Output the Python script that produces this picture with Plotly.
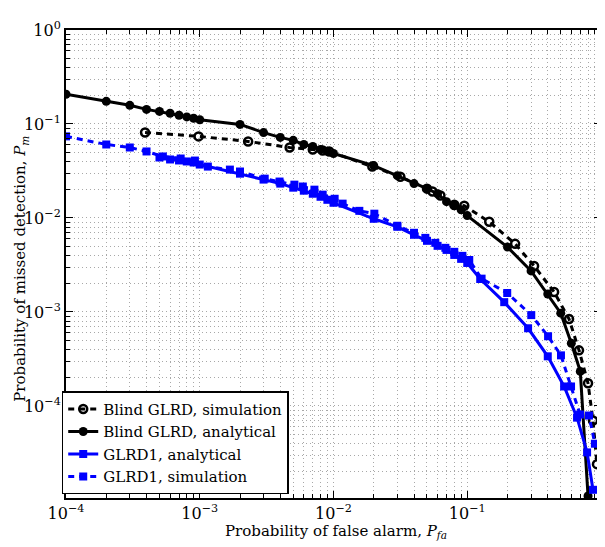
import plotly.graph_objects as go

# ---------------- data ----------------
# Blind GLRD, analytical
blind_ana_pfa = [1e-4, 2e-4, 3e-4, 4e-4, 5e-4, 6e-4, 7e-4, 8e-4, 9e-4, 1e-3,
                 2e-3, 3e-3, 4e-3, 5e-3, 6e-3, 7e-3, 8e-3, 9e-3, 1e-2,
                 2e-2, 3e-2, 4e-2, 5e-2, 6e-2, 7e-2, 8e-2, 9e-2, 0.1,
                 0.2, 0.3, 0.4, 0.5, 0.6, 0.7, 0.8]
blind_ana_pm = [0.207, 0.174, 0.158, 0.143, 0.136, 0.130, 0.124, 0.119, 0.115, 0.111,
                0.099, 0.081, 0.072, 0.067, 0.0605, 0.0577, 0.0536, 0.0513, 0.0485,
                0.0361, 0.0282, 0.0232, 0.0205, 0.0181, 0.0149, 0.0135, 0.0122, 0.0106,
                0.0049, 0.00273, 0.00155, 0.00097, 0.000464, 0.000233, 1.1e-5]

# Blind GLRD, simulation
blind_sim_pfa = [3.9e-4, 9.8e-4, 2.3e-3, 4.7e-3, 7.0e-3, 8.3e-3, 9.3e-3,
                 1.95e-2, 3.16e-2, 5.0e-2, 5.5e-2, 6.3e-2, 8.0e-2, 9.5e-2,
                 0.146, 0.228, 0.316, 0.446, 0.577, 0.685, 0.80, 0.871, 0.933]
blind_sim_pm = [0.0813, 0.0738, 0.0652, 0.0562, 0.0535, 0.0522, 0.0510,
                0.0352, 0.0275, 0.0205, 0.0191, 0.0173, 0.0138, 0.0135,
                0.0091, 0.0053, 0.00309, 0.00163, 0.00084, 0.00039, 1.74e-4, 7.0e-5, 2.4e-5]

# GLRD1, analytical
glrd1_ana_pfa = [5e-4, 6e-4, 7e-4, 8e-4, 9e-4, 1e-3,
                 2e-3, 3e-3, 4e-3, 5e-3, 6e-3, 7e-3, 8e-3, 9e-3, 1e-2,
                 2e-2, 3e-2, 4e-2, 5e-2, 6e-2, 7e-2, 8e-2, 9e-2, 0.1,
                 0.125, 0.189, 0.285, 0.40, 0.53, 0.662, 0.787, 0.871]
glrd1_ana_pm = [0.0440, 0.0419, 0.0409, 0.0399, 0.0389, 0.0370,
                0.0296, 0.0256, 0.0232, 0.0210, 0.0195, 0.0181, 0.0168, 0.0156, 0.0145,
                0.0098, 0.00805, 0.00662, 0.00571, 0.00505, 0.00457, 0.00404, 0.00367, 0.00332,
                0.00224, 0.00127, 6.7e-4, 3.37e-4, 1.61e-4, 7.5e-5, 3.2e-5, 1.28e-5]

# GLRD1, simulation
glrd1_sim_pfa = [1e-4, 2e-4, 3e-4, 4e-4, 5.3e-4, 7.2e-4, 9.2e-4, 1.15e-3, 1.68e-3, 2e-3,
                 3.06e-3, 3.95e-3, 5.1e-3, 5.9e-3, 7.2e-3, 8.3e-3, 1.02e-2, 1.17e-2,
                 1.56e-2, 2.02e-2, 3.0e-2, 4.0e-2, 4.86e-2, 5.77e-2, 6.86e-2, 8.0e-2,
                 9.2e-2, 0.1035, 0.128, 0.199, 0.301, 0.402, 0.502, 0.597, 0.697, 0.813, 0.90]
glrd1_sim_pm = [0.0738, 0.0605, 0.0562, 0.0510, 0.0451, 0.0429, 0.0408, 0.0352, 0.0327, 0.0312,
                0.0262, 0.0244, 0.0226, 0.0216, 0.0200, 0.0177, 0.0160, 0.0142,
                0.0119, 0.0111, 0.00826, 0.00695, 0.00614, 0.00543, 0.00481, 0.00436,
                0.00395, 0.00357, 0.00226, 0.00159, 0.000925, 0.000551, 0.000345, 0.000161,
                8.1e-5, 7.9e-5, 3.96e-5]

x_ticks = [1e-4, 1e-3, 1e-2, 1e-1, 1]
x_ticktext = ["10<sup>−4</sup>", "10<sup>−3</sup>", "10<sup>−2</sup>", "10<sup>−1</sup>", "10<sup>0</sup>"]
y_ticks = [1e-4, 1e-3, 1e-2, 1e-1, 1]
y_ticktext = ["10<sup>−4</sup>", "10<sup>−3</sup>", "10<sup>−2</sup>", "10<sup>−1</sup>", "10<sup>0</sup>"]

x_title = "Probability of false alarm, <i>P<sub>fa</sub></i>"
y_title = "Probability of missed detection, <i>P<sub>m</sub></i>"

# ---------------- figure ----------------
FONT = "DejaVu Serif"
fig = go.Figure()

fig.add_trace(go.Scatter(
    x=blind_sim_pfa, y=blind_sim_pm, name="Blind GLRD, simulation",
    mode="lines+markers",
    line=dict(color="black", width=3, dash="6px,5px"),
    marker=dict(symbol="circle-open", size=8, color="black", line=dict(width=2.5, color="black")),
))
fig.add_trace(go.Scatter(
    x=blind_ana_pfa, y=blind_ana_pm, name="Blind GLRD, analytical",
    mode="lines+markers",
    line=dict(color="black", width=3),
    marker=dict(symbol="circle", size=9, color="black"),
))
fig.add_trace(go.Scatter(
    x=glrd1_ana_pfa, y=glrd1_ana_pm, name="GLRD1, analytical",
    mode="lines+markers",
    line=dict(color="#0000ff", width=3),
    marker=dict(symbol="square", size=8, color="#0000ff"),
))
fig.add_trace(go.Scatter(
    x=glrd1_sim_pfa, y=glrd1_sim_pm, name="GLRD1, simulation",
    mode="lines+markers",
    line=dict(color="#0000ff", width=3, dash="6px,5px"),
    marker=dict(symbol="square", size=8, color="#0000ff"),
))

grid_color = "#a8a8a8"
grid_dash = "1px,3px"
x_minor = [k * 10.0 ** d for d in range(-4, 0) for k in range(2, 10)]
y_minor = [k * 10.0 ** d for d in range(-5, 0) for k in range(2, 10)]

axis_common = dict(
    type="log",
    showline=True, linecolor="black", linewidth=2, mirror="allticks",
    ticks="inside", ticklen=7, tickwidth=1, tickcolor="black",
    showgrid=True, gridcolor=grid_color, griddash=grid_dash, gridwidth=1,
    zeroline=False,
    tickfont=dict(family=FONT, size=16, color="black"),
)

fig.update_xaxes(
    **axis_common,
    range=[-4, 0],
    tickmode="array", tickvals=x_ticks, ticktext=x_ticktext,
    minor=dict(tickmode="array", tickvals=x_minor, ticks="inside", ticklen=4,
               tickcolor="black", showgrid=True, gridcolor=grid_color, griddash=grid_dash),
)
fig.update_yaxes(
    **axis_common,
    range=[-4.98, 0],
    tickmode="array", tickvals=y_ticks, ticktext=y_ticktext,
    minor=dict(tickmode="array", tickvals=y_minor, ticks="inside", ticklen=4,
               tickcolor="black", showgrid=True, gridcolor=grid_color, griddash=grid_dash),
)

fig.add_annotation(text=x_title, xref="paper", yref="paper", x=0.505, y=-0.072,
                   xanchor="center", yanchor="middle", showarrow=False,
                   font=dict(family=FONT, size=15, color="black"))
fig.add_annotation(text=y_title, xref="paper", yref="paper", x=-0.084, y=0.49,
                   xanchor="center", yanchor="middle", showarrow=False, textangle=-90,
                   font=dict(family=FONT, size=15, color="black"))

fig.update_layout(
    width=605, height=547,
    margin=dict(l=58, r=12, t=22, b=57, autoexpand=False),
    paper_bgcolor="white", plot_bgcolor="white",
    font=dict(family=FONT, size=15, color="black"),
    legend=dict(
        x=-0.008, y=0.228, xanchor="left", yanchor="top",
        bgcolor="white", bordercolor="black", borderwidth=1.5,
        font=dict(family=FONT, size=15, color="black"),
        itemwidth=30, tracegroupgap=0,
    ),
    showlegend=True,
)

fig.write_html("out.html")
